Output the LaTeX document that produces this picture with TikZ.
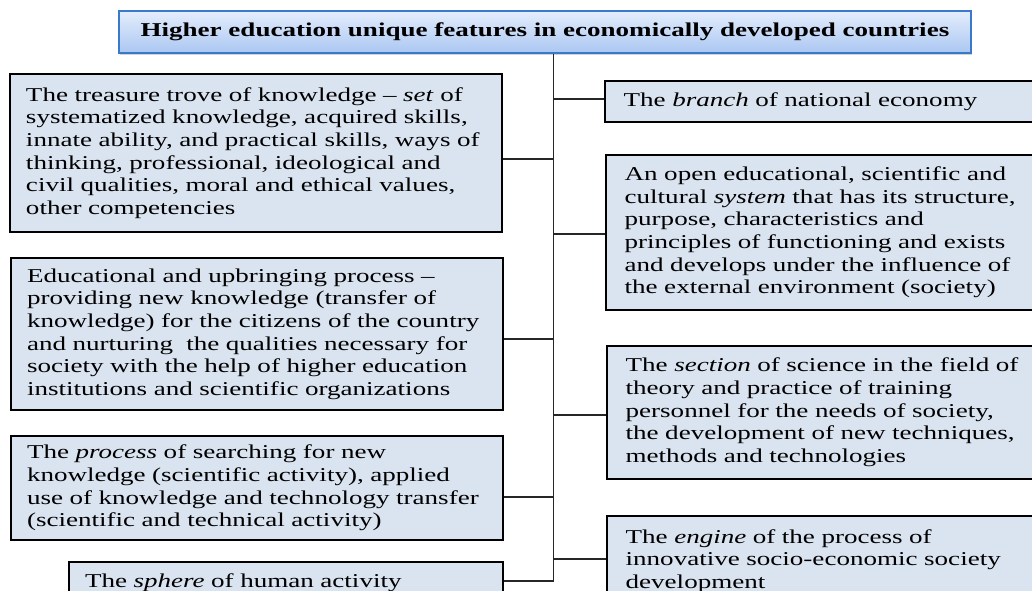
\documentclass[tikz,border=0pt]{standalone}
\usepackage{fontspec}
\setmainfont{Liberation Serif}[FakeStretch=1.38]
\usetikzlibrary{positioning,shadows}
\definecolor{featfill}{HTML}{DAE3F0}
\definecolor{headblue}{HTML}{3A79C9}
\definecolor{headtop}{HTML}{E4EDFC}
\definecolor{headbot}{HTML}{ABC7F2}

\begin{document}
\begin{tikzpicture}[
    x=0.75pt, y=-0.75pt,
    every node/.style={font=\fontsize{14.7}{17}\selectfont},
    head/.style={
        draw=headblue, top color=headtop, bottom color=headbot,
        line width=1.4pt, inner sep=0pt,
        minimum width=639pt, minimum height=31.5pt,
        font=\fontsize{14.7}{17}\selectfont\bfseries,
        drop shadow={shadow xshift=1pt, shadow yshift=-1.5pt, opacity=0.35}
    },
    feature/.style={
        draw=black, fill=featfill, line width=1.5pt,
        inner xsep=12pt, inner ysep=0pt,
        align=left, anchor=north west
    },
    link/.style={draw=black!85, line width=0.8pt},
]

% page frame
\useasboundingbox (0,0) rectangle (1032,591);
\clip (0,0) rectangle (1032,591);

% Title
\node[head, anchor=north west] (title) at (118,10)
    {Higher education unique features in economically developed countries};

% === Left column ===
\node[feature, text width=345pt, minimum height=118.5pt] (L1) at (9,73)
    {The treasure trove of knowledge -- \textit{set} of\\
     systematized knowledge, acquired skills,\\
     innate ability, and practical skills, ways of\\
     thinking, professional, ideological and\\
     civil qualities, moral and ethical values,\\
     other competencies};
\node[feature, text width=345pt, minimum height=114pt,
      below=18pt of L1.south west, anchor=north west, xshift=0.75pt] (L2)
    {Educational and upbringing process --\\
     providing new knowledge (transfer of\\
     knowledge) for the citizens of the country\\
     and nurturing\ \ the qualities necessary for\\
     society with the help of higher education\\
     institutions and scientific organizations};
\node[feature, text width=345pt, minimum height=78pt,
      below=18pt of L2.south west, anchor=north west] (L3)
    {The \textit{process} of searching for new\\
     knowledge (scientific activity), applied\\
     use of knowledge and technology transfer\\
     (scientific and technical activity)};
\node[feature, text width=301.5pt, minimum height=31.5pt, inner xsep=12pt,
      below=15pt of L3.south east, anchor=north east] (L4)
    {The \textit{sphere} of human activity};

% === Right column ===
\node[feature, inner xsep=14pt, text width=330pt, minimum height=30.75pt] (R1) at (604,80)
    {The \textit{branch} of national economy};
\node[feature, inner xsep=14pt, text width=330pt, minimum height=116.25pt,
      below=23.25pt of R1.south west, anchor=north west, xshift=0.75pt] (R2)
    {An open educational, scientific and\\
     cultural \textit{system} that has its structure,\\
     purpose, characteristics and\\
     principles of functioning and exists\\
     and develops under the influence of\\
     the external environment (society)};
\node[feature, inner xsep=14pt, text width=330pt, minimum height=99.75pt,
      below=25.5pt of R2.south west, anchor=north west, xshift=0.75pt] (R3)
    {The \textit{section} of science in the field of\\
     theory and practice of training\\
     personnel for the needs of society,\\
     the development of new techniques,\\
     methods and technologies};
\node[feature, inner xsep=14pt, text width=330pt, minimum height=67.5pt,
      below=26.25pt of R3.south west, anchor=north west] (R4)
    {The \textit{engine} of the process of\\
     innovative socio-economic society\\
     development};

% Spine and branches
\coordinate (spine) at (553.5,52);
\draw[link] (L1.east) ++(0,6) coordinate (c1) -- (c1 -| spine);
\draw[link] (L2.east) ++(0,5) coordinate (c2) -- (c2 -| spine);
\draw[link] (L3.east) ++(0,9) coordinate (c3) -- (c3 -| spine);
\draw[link] (L4.east) ++(0,-2) coordinate (c4) -- (c4 -| spine);
\draw[link] (R1.west) ++(0,-2.5) coordinate (d1) -- (d1 -| spine);
\draw[link] (R2.west) ++(0,1.5) coordinate (d2) -- (d2 -| spine);
\draw[link] (R3.west) ++(0,2.5) coordinate (d3) -- (d3 -| spine);
\draw[link] (R4.west) ++(0,-2) coordinate (d4) -- (d4 -| spine);
\draw[link] (title.south -| spine) -- (c4 -| spine);

\end{tikzpicture}
\end{document}
